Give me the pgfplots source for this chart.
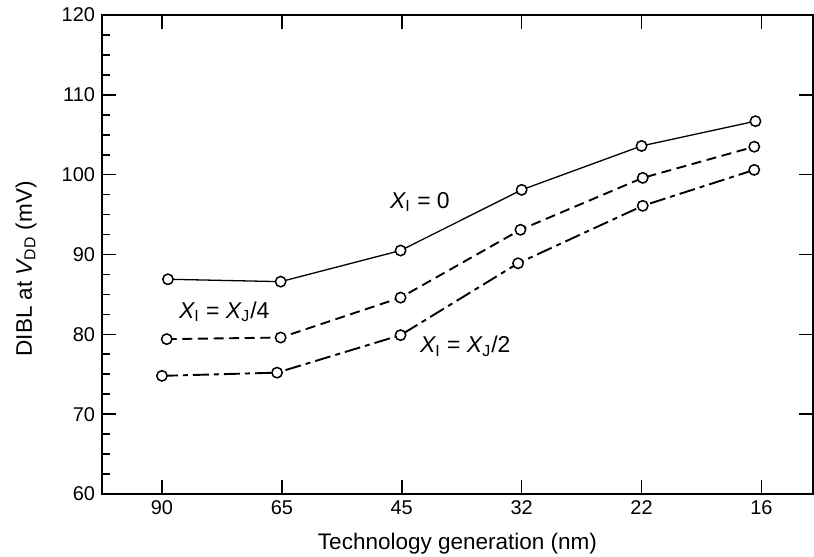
\documentclass[border=0pt]{standalone}
\usepackage{fontspec}
\setmainfont{Liberation Sans}
\usepackage{pgfplots}
\pgfplotsset{compat=1.18}
\begin{document}
\begin{tikzpicture}
\begin{axis}[
  scale only axis,
  width=355.5bp, height=239.5bp,
  xmin=-0.5, xmax=5.43,
  ymin=60, ymax=120,
  xtick={0,1,2,3,4,5},
  xticklabels={90,65,45,32,22,16},
  ytick={60,70,80,90,100,110,120},
  minor ytick={62.5,65,67.5,72.5,75,77.5,82.5,85,87.5,92.5,95,97.5,102.5,105,107.5,112.5,115,117.5},
  tick align=inside,
  xtick pos=both, ytick pos=left,
  major tick length=7bp,
  minor tick length=4bp,
  every tick/.style={black, line width=0.8bp},
  axis line style={line width=1bp},
  /pgf/number format/assume math mode=true,
  tick label style={font=\fontsize{10}{11}\selectfont},
  label style={font=\fontsize{11.3}{13}\selectfont},
  xlabel={Technology generation (nm)},
  ylabel={DIBL at {\itshape V}\textsubscript{DD} (mV)},
  xlabel style={at={([yshift=-27.5bp]rel axis cs:0.5,0)}, anchor=base},
  ylabel style={at={([xshift=-35bp]rel axis cs:0,0.47)}, anchor=base},
  clip=false,
]
\addplot[black, line width=0.65bp, mark=*, mark size=2.6bp, mark options={solid, fill=white, draw=black, line width=0.75bp}]
  coordinates {(0.05,86.9) (0.99,86.6) (1.99,90.5) (3.0,98.1) (4.0,103.6) (4.95,106.7)};
\addplot[black, line width=0.95bp, dash pattern=on 5bp off 2.8bp, mark=*, mark size=2.6bp, mark options={solid, fill=white, draw=black, line width=0.75bp}]
  coordinates {(0.04,79.4) (0.99,79.6) (1.99,84.6) (2.99,93.1) (4.01,99.6) (4.94,103.5)};
\addplot[black, line width=0.95bp, dash pattern=on 8bp off 2.5bp on 2.5bp off 2.5bp, mark=*, mark size=2.6bp, mark options={solid, fill=white, draw=black, line width=0.75bp}]
  coordinates {(0.0,74.8) (0.96,75.2) (1.99,79.9) (2.97,88.9) (4.01,96.1) (4.94,100.6)};
\node[anchor=base west, font=\fontsize{11.5}{13}\selectfont, inner sep=0pt] at (axis cs:1.90,95.8) {{\itshape X}\textsubscript{I} = 0};
\node[anchor=base west, font=\fontsize{11.5}{13}\selectfont, inner sep=0pt] at (axis cs:0.14,82.0) {{\itshape X}\textsubscript{I} = {\itshape X}\textsubscript{J}/4};
\node[anchor=base west, font=\fontsize{11.5}{13}\selectfont, inner sep=0pt] at (axis cs:2.15,77.7) {{\itshape X}\textsubscript{I} = {\itshape X}\textsubscript{J}/2};
\end{axis}
\begin{axis}[
  scale only axis,
  width=355.5bp, height=239.5bp,
  xmin=-0.5, xmax=5.43,
  ymin=60, ymax=120,
  axis line style={draw=none},
  xtick=\empty,
  ytick={70,80,90,100,110},
  yticklabels={},
  ytick pos=right,
  tick align=inside,
  major tick length=7bp,
  every tick/.style={black, line width=0.8bp},
]
\end{axis}
\pgfresetboundingbox
\path (-51bp,-31.5bp) rectangle (356bp,247bp);
\end{tikzpicture}
\end{document}
